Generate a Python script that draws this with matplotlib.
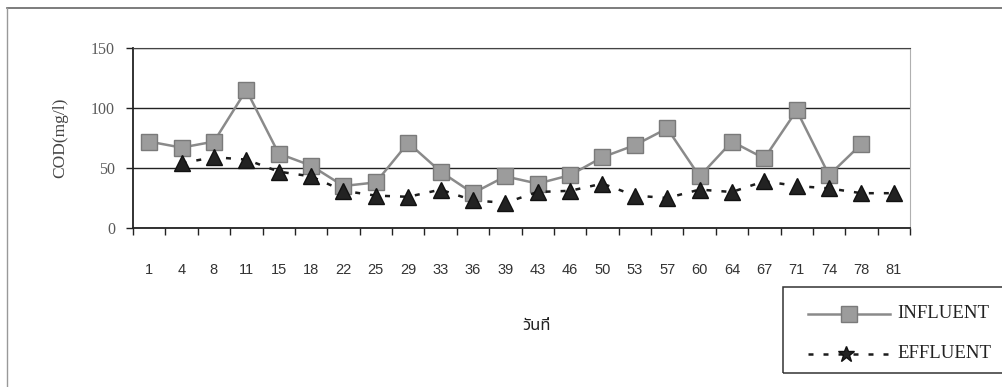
import matplotlib
matplotlib.use("Agg")
import matplotlib.pyplot as plt
from matplotlib.lines import Line2D
from matplotlib.patches import Rectangle
import numpy as np

days = ["1", "4", "8", "11", "15", "18", "22", "25", "29", "33", "36", "39",
        "43", "46", "50", "53", "57", "60", "64", "67", "71", "74", "78", "81"]
influent = [72, 67, 72, 115, 62, 52, 35, 38, 71, 47, 29, 43,
            37, 44, 59, 69, 83, 43, 72, 58, 98, 44, 70, np.nan]
effluent = [np.nan, 54, 59, 57, 47, 43, 31, 27, 26, 32, 23, 21,
            30, 31, 37, 27, 25, 32, 30, 39, 35, 33, 29, 29]

W, H = 1002, 387
fig = plt.figure(figsize=(W / 100, H / 100), dpi=100)
fig.patch.set_facecolor("white")

serif = ["Liberation Serif", "DejaVu Serif"]
sans = ["Liberation Sans Narrow", "Liberation Sans", "DejaVu Sans"]
thai = ["Noto Sans Thai", "Loma", "Garuda", "Noto Sans", "DejaVu Sans"]

IN_LINE, IN_FACE, IN_EDGE = "#8a8a8a", "#9c9c9c", "#7a7a7a"
EF_COLOR = "#1c1c1c"

ax = fig.add_axes([133 / W, 1 - 228 / H, 777 / W, 180 / H])
x = np.arange(len(days))

ax.plot(x, influent, color=IN_LINE, lw=1.8, marker="s", ms=11,
        mfc=IN_FACE, mec=IN_EDGE, mew=1.0, zorder=3)
ax.plot(x, effluent, color=EF_COLOR, lw=1.8, ls=(0, (2, 4)), marker="^",
        ms=11, mfc="#222222", mec="#111111", zorder=4)

ax.set_xlim(-0.5, len(days) - 0.5)
ax.set_ylim(0, 150)
ax.set_yticks([0, 50, 100, 150])
ax.set_yticklabels(["0", "50", "100", "150"], family=serif, fontsize=11.5,
                   color="#5a5a5a")
ax.yaxis.grid(True, color="#222222", lw=1.0)
ax.set_axisbelow(True)

ax.set_xticks(x)
ax.set_xticklabels(days, family=sans, fontsize=10.5, color="#333333")
ax.set_xticks(np.arange(-0.5, len(days)), minor=True)
ax.tick_params(axis="x", which="major", length=0, pad=25)
ax.tick_params(axis="x", which="minor", length=5, width=1.0, color="#222222",
               direction="out")
ax.tick_params(axis="y", length=5, width=1.0, color="#222222", direction="out",
               pad=8)

for side in ("left", "bottom"):
    ax.spines[side].set_color("#222222")
    ax.spines[side].set_linewidth(1.3)
ax.spines["top"].set_color("#444444")
ax.spines["right"].set_color("#b0b0b0")

ax.set_ylabel("COD(mg/l)", family=serif, fontsize=12.5, color="#444444",
              labelpad=16)

fig.text(537 / W, 1 - 326 / H, "วันที่", family=thai, fontsize=12,
         ha="center", va="center", color="#222222", weight="bold")

# outer frame lines (top and left)
fig.add_artist(Line2D([7 / W, 1.0], [1 - 8 / H, 1 - 8 / H], color="#666666",
                      lw=1.2, transform=fig.transFigure))
fig.add_artist(Line2D([7 / W, 7 / W], [0, 1 - 8 / H], color="#999999",
                      lw=1.0, transform=fig.transFigure))

# legend box
fig.add_artist(Rectangle((783 / W, 1 - 373 / H), 0.3, 86 / H,
                         transform=fig.transFigure, fill=False,
                         ec="#333333", lw=1.1))
y1, y2 = 1 - 314 / H, 1 - 354 / H
fig.add_artist(Line2D([808 / W, 890 / W], [y1, y1], color=IN_LINE, lw=1.8,
                      transform=fig.transFigure))
fig.add_artist(Line2D([849 / W], [y1], marker="s", ms=11, mfc=IN_FACE,
                      mec=IN_EDGE, transform=fig.transFigure))
fig.add_artist(Line2D([808 / W, 890 / W], [y2, y2], color=EF_COLOR, lw=1.8,
                      ls=(0, (2, 4)), transform=fig.transFigure))
fig.add_artist(Line2D([846 / W], [y2], marker="*", ms=12, mfc="#222222",
                      mec="#111111", transform=fig.transFigure))
fig.text(897 / W, y1, "INFLUENT", family=serif, fontsize=13.5, va="center",
         color="#222222")
fig.text(897 / W, y2, "EFFLUENT", family=serif, fontsize=13.5, va="center",
         color="#222222")

fig.savefig("out.png", dpi=100, facecolor="white")
